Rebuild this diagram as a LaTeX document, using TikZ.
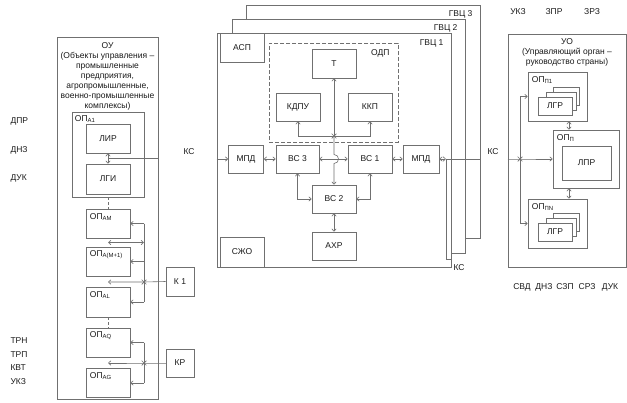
\documentclass[tikz,border=0pt]{standalone}
\usepackage{fontspec}
\setmainfont{Liberation Sans}
\usetikzlibrary{arrows.meta,positioning,calc,shapes.misc}
\definecolor{linec}{HTML}{707070}
\definecolor{textc}{HTML}{1A1A1A}

\begin{document}
\begin{tikzpicture}[x=1pt,y=-1pt,
  every node/.style={font=\fontsize{8.5}{10}\selectfont,text=textc},
  box/.style={draw=linec,fill=white,line width=0.6pt,minimum width=44pt,minimum height=29pt,inner sep=1pt},
  frame/.style={draw=linec,fill=white,line width=0.6pt,inner sep=0pt},
  lbl/.style={anchor=west,inner sep=0pt},
  wire/.style={draw=linec,line width=0.6pt},
  arr/.style={wire,-{Straight Barb[length=2.5pt,width=4.5pt]}},
  darr/.style={wire,{Straight Barb[length=2.5pt,width=4.5pt]}-{Straight Barb[length=2.5pt,width=4.5pt]}},
  junc/.style={draw=linec,cross out,line width=0.7pt,minimum size=4pt,inner sep=0pt},
]
  \useasboundingbox (0,0) rectangle (627,402);

  % OU side
  \node[frame,minimum width=101pt,minimum height=362pt] (ou) at (107.5,218) {};
  \node[align=center] (outitle) at (107.5,76) {ОУ\\(Объекты управления –\\промышленные\\предприятия,\\агропромышленные,\\военно-промышленные\\комплексы)};
  \node[frame,minimum width=72pt,minimum height=85pt] (opa1) at (108,154.5) {};
  \node[lbl] (opa1l) at ($(opa1.north west)+(3,7)$) {ОП\textsubscript{А1}};
  \node[box] (lir) at (108,138.5) {ЛИР};
  \node[box,minimum height=30pt] (lgi) at (108,179) {ЛГИ};
  \node[box] (opam) at (108,223.5) {};
  \node[lbl] (opaml) at ($(opam.north west)+(4,8)$) {ОП\textsubscript{АМ}};
  \node[box] (opam1) at (108,261.5) {};
  \node[lbl] (opam1l) at ($(opam1.north west)+(4,8)$) {ОП\textsubscript{А(М+1)}};
  \node[box,minimum height=30pt] (opal) at (108,302) {};
  \node[lbl] (opall) at ($(opal.north west)+(4,8)$) {ОП\textsubscript{АL}};
  \node[box] (opaq) at (108,342.5) {};
  \node[lbl] (opaql) at ($(opaq.north west)+(4,8)$) {ОП\textsubscript{АQ}};
  \node[box] (opag) at (108,383) {};
  \node[lbl] (opagl) at ($(opag.north west)+(4,8)$) {ОП\textsubscript{АG}};
  \node[box,minimum width=28pt] (k1) at (180,281.5) {К 1};
  \node[box,minimum width=28pt,minimum height=28pt] (kr) at (180,363) {КР};

  \node[anchor=west] (dpr) at (7,121) {ДПР};
  \node[anchor=west] (dnz) at (7,150) {ДНЗ};
  \node[anchor=west] (duk) at (7,178) {ДУК};
  \node[anchor=west] (trn) at (7,341) {ТРН};
  \node[anchor=west] (trp) at (7,355) {ТРП};
  \node[anchor=west] (kvt) at (7,368) {КВТ};
  \node[anchor=west] (ukz) at (7,382) {УКЗ};

  \draw[darr] (lir) -- (lgi);
  \coordinate (oulink) at ($(lir.south)!0.5!(lgi.north)$);
  \draw[wire] (oulink) -- (oulink -| ou.east);
  \draw[wire,dash pattern=on 3pt off 2pt] (opa1) -- (opam);
  \draw[wire,dash pattern=on 3pt off 2pt] (opal) -- (opaq);

  \node[junc] (j1) at (144,282) {};
  \node[junc] (j2) at (144,363) {};
  \draw[wire] (opam.east -| j1) -- (opal.east -| j1);
  \draw[arr] (opam.east -| j1) -- (opam.east);
  \draw[arr] (opam1.east -| j1) -- (opam1.east);
  \draw[arr] (opal.east -| j1) -- (opal.east);
  \coordinate (mlink) at ($(opam.south)!0.5!(opam1.north)$);
  \draw[darr] (mlink) -- (mlink -| j1);
  \draw[arr] (k1.west) -- (j1.center) -- (j1 -| opal);
  \draw[wire] (opaq.east -| j2) -- (opag.east -| j2);
  \draw[arr] (opaq.east -| j2) -- (opaq.east);
  \draw[arr] (opag.east -| j2) -- (opag.east);
  \draw[arr] (kr.west) -- (j2.center) -- (j2 -| opag);

  % GVC stack
  \node[frame,minimum width=234pt,minimum height=233pt] (gvc3) at (363,121.5) {};
  \node[frame,minimum width=233pt,minimum height=234pt] (gvc2) at (348.5,136) {};
  \node[frame,minimum width=234pt,minimum height=234pt] (gvc1) at (334,150) {};
  \node[anchor=east] (gvc3l) at (476,14) {ГВЦ 3};
  \node[anchor=east] (gvc2l) at (461,28) {ГВЦ 2};
  \node[anchor=east] (gvc1l) at (447,43) {ГВЦ 1};

  \node[box] (asp) at (242,47.5) {АСП};
  \node[box,minimum height=30pt] (szho) at (242,252) {СЖО};
  \node[frame,fill=none,dash pattern=on 4pt off 2pt,minimum width=129pt,minimum height=99pt] (odp) at (333.5,92.5) {};
  \node[anchor=east] (odpl) at (393,53) {ОДП};
  \node[box] (t) at (334,63.5) {Т};
  \node[box,minimum height=28pt] (kdpu) at (298,107) {КДПУ};
  \node[box,minimum height=28pt] (kkp) at (370,107) {ККП};

  \node[box,minimum width=35pt,minimum height=28pt] (mpd1) at (246,159) {МПД};
  \node[box,minimum width=43pt,minimum height=28pt] (vs3) at (297.5,159) {ВС 3};
  \node[box,minimum height=28pt] (vs1) at (370,159) {ВС 1};
  \node[box,minimum width=36pt,minimum height=28pt] (mpd2) at (421,159) {МПД};
  \node[box,minimum height=28pt] (vs2) at (334,199) {ВС 2};
  \node[box,minimum height=28pt] (ahr) at (334,246) {АХР};

  \node[junc] (j3) at (334,136) {};
  \draw[arr] (j3.center) -- (t);
  \draw[arr] (j3.center) -| (kdpu);
  \draw[arr] (j3.center) -| (kkp);
  \coordinate (hop) at (334,159);
  \draw[arr] (j3.center) -- ($(hop)+(0,-4.5)$) .. controls +(6,0) and +(6,0) .. ($(hop)+(0,4.5)$) -- (vs2);

  \draw[arr] (mpd1 -| gvc1.west) -- (mpd1);
  \draw[darr] (mpd1) -- (vs3);
  \draw[darr] (vs3) -- (vs1);
  \draw[darr] (vs1) -- (mpd2);
  \draw[darr] (vs3) |- (vs2);
  \draw[darr] (vs1) |- (vs2);
  \draw[darr] (vs2) -- (ahr);
  \coordinate (ksout) at (446,159);
  \draw[darr] (mpd2) -- (ksout);
  \draw[wire] (ksout) -- (ksout -| gvc3.east);
  \draw[wire] (ksout) |- ($(gvc1.south east)+(0,-8)$);

  \node (ks1) at (189,152) {КС};
  \node (ks2) at (493,152) {КС};
  \node (ks3) at (459,268) {КС};

  % UO side
  \node[frame,minimum width=118pt,minimum height=233pt] (uo) at (567,150.5) {};
  \node[align=center] (uotitle) at (567,52.5) {УО\\(Управляющий орган –\\руководство страны)};
  \node[frame,minimum width=59pt,minimum height=49pt] (opp1) at (557.5,96.5) {};
  \node[lbl] (opp1l) at ($(opp1.north west)+(4,8)$) {ОП\textsubscript{П1}};
  \node[frame,minimum width=26pt,minimum height=18pt] (lgr1c) at (566,96) {};
  \node[frame,minimum width=30pt,minimum height=18pt] (lgr1b) at (561,101) {};
  \node[box,minimum width=34pt,minimum height=18pt] (lgr1) at (555,106) {ЛГР};
  \node[frame,minimum width=66pt,minimum height=58pt] (opp) at (586,159) {};
  \node[lbl] (oppl) at ($(opp.north west)+(4,8)$) {ОП\textsubscript{П}};
  \node[box,minimum width=49pt,minimum height=34pt] (lpr) at (586.5,163) {ЛПР};
  \node[frame,minimum width=59pt,minimum height=49pt] (oppn) at (557.5,223.5) {};
  \node[lbl] (oppnl) at ($(oppn.north west)+(4,8)$) {ОП\textsubscript{ПN}};
  \node[frame,minimum width=26pt,minimum height=18pt] (lgr2c) at (566,222) {};
  \node[frame,minimum width=30pt,minimum height=18pt] (lgr2b) at (561,227) {};
  \node[box,minimum width=34pt,minimum height=18pt] (lgr2) at (555,232) {ЛГР};

  \coordinate (vlink) at (569,0);
  \draw[darr] (opp1.south -| vlink) -- (opp.north -| vlink);
  \draw[darr] (opp.south -| vlink) -- (oppn.north -| vlink);
  \node[junc] (j4) at (520,159) {};
  \draw[arr] (uo.west |- opp) -- (j4.center) -- (opp.west);
  \draw[arr] (j4.center) |- (opp1.west);
  \draw[arr] (j4.center) |- (oppn.west);

  \node (ukz2) at (518,12) {УКЗ};
  \node (zpr) at (554,12) {ЗПР};
  \node (zrz) at (592,12) {ЗРЗ};
  \node (svd) at (522,287) {СВД};
  \node (dnz2) at (544,287) {ДНЗ};
  \node (szp) at (565,287) {СЗП};
  \node (srz) at (587,287) {СРЗ};
  \node (duk2) at (610,287) {ДУК};
\end{tikzpicture}
\end{document}
